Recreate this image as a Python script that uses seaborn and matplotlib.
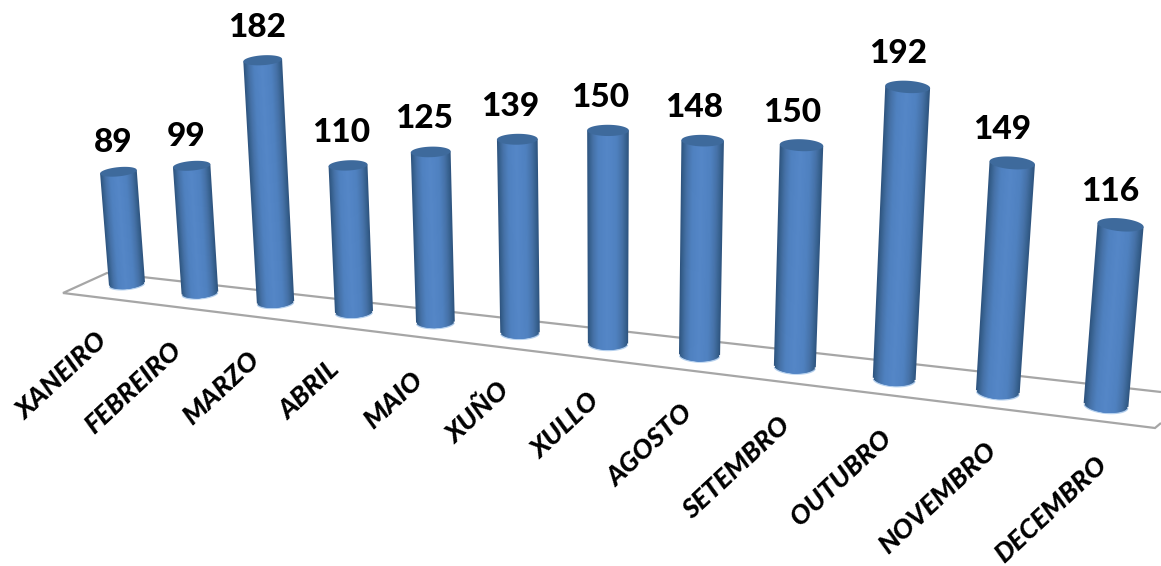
import numpy as np
import matplotlib
matplotlib.use("Agg")
import matplotlib.pyplot as plt
from matplotlib.transforms import Transform, Affine2D
from matplotlib.patches import Polygon
from matplotlib.colors import to_rgb
import seaborn as sns

months = ["XANEIRO", "FEBREIRO", "MARZO", "ABRIL", "MAIO", "XUÑO", "XULLO",
          "AGOSTO", "SETEMBRO", "OUTUBRO", "NOVEMBRO", "DECEMBRO"]
values = [89, 99, 182, 110, 125, 139, 150, 148, 150, 192, 149, 116]

W, H = 1161, 566
HALF = 0.25          # half width of a cylinder in category units


def centre(i, v):
    """Perspective of the 3D plot: category/value -> reference pixel."""
    d = 1 - 0.01774 * i - 0.000197 * v
    return (127 + 69.38 * i - 0.1198 * v) / d, (284 + 3.82 * i - 1.295 * v) / d, d


def tilt(c):
    return 0.0165 * (c - 5.8)


class Perspective(Transform):
    input_dims = output_dims = 2
    is_separable = False
    has_inverse = False

    def transform_non_affine(self, values):
        values = np.asarray(values, float)
        x, v = values[:, 0], values[:, 1]
        c = np.round(x)
        u = x - c
        X, Y, d = centre(c, v)
        off = u * 72 / d
        Yo = Y + off * tilt(c)
        depth = (5.0 + 0.25 * c) * np.sqrt(np.clip(1 - (u / HALF) ** 2, 0, 1))
        Yo = Yo + np.where(v <= 0.01, depth, 0)
        return np.column_stack([X + off, Yo])


sns.set_theme(style="white")
fig, ax = plt.subplots(figsize=(W / 100, H / 100), dpi=100)
fig.subplots_adjust(0, 0, 1, 1)
ax.set_axis_off()

to_fig = Affine2D().scale(1 / W, -1 / H).translate(0, 1) + fig.transFigure
persp = Perspective() + to_fig

# floor of the 3D plot
floor = [(1161, 392), (107, 273), (63, 293), (1155, 428), (1161, 423)]
ax.add_patch(Polygon(floor, closed=False, fill=False, ec="#a6a6a6", lw=1.6,
                     transform=to_fig, clip_on=False, zorder=0))

# light rim under each base
for i in range(12):
    X, Y, d = centre(i, 0)
    t = np.linspace(0, np.pi, 40)
    dx = np.cos(t) * HALF * 72 / d
    dy = np.sin(t) * (5.0 + 0.25 * i) + dx * tilt(i) + 1.2
    ax.add_patch(Polygon(np.column_stack([X + dx, Y + dy]), fc="#b5d0ee", ec="none",
                         transform=to_fig, clip_on=False, zorder=0.5))

# cylinder bodies: nested seaborn bars form the shading
stops_t = [0.0, 0.45, 0.72, 0.9, 1.0]
stops_c = [to_rgb(c) for c in ["#5587c8", "#4f81c0", "#4672a8", "#37618f", "#2f5580"]]
levels = np.linspace(1, 0.04, 20)
for z, t in enumerate(levels):
    col = [np.interp(t, stops_t, [s[j] for s in stops_c]) for j in range(3)]
    n0 = len(ax.patches)
    sns.barplot(x=months, y=values, width=2 * HALF * t, color=col, saturation=1,
                ax=ax, legend=False, linewidth=0)
    for p in ax.patches[n0:]:
        p.set_x(p.get_x() - 0.012 * (1 - t))
        p.set_transform(persp)
        p.set_clip_on(False)
        p.set_zorder(1 + z * 0.01)
ax.set_axis_off()

# caps
for i, v in enumerate(values):
    X, Y, d = centre(i, v)
    t = np.linspace(0, 2 * np.pi, 80)
    dx = np.cos(t) * HALF * 72 / d
    dy = np.sin(t) * (4.6 + 0.17 * i) + dx * tilt(i)
    ax.add_patch(Polygon(np.column_stack([X + dx, Y + dy]), fc="#3e6a9c", ec="none",
                         transform=to_fig, clip_on=False, zorder=2))

# labels
for i, v in enumerate(values):
    ax.annotate(str(v), xy=(i, v), xycoords=persp,
                xytext=(-5 - 0.5 * i, 29 if i < 2 else 33), textcoords="offset pixels",
                ha="center", va="center", fontsize=24, fontweight=900,
                family="Lato", color="black", annotation_clip=False, zorder=3)
    ax.annotate(months[i], xy=(i, 0), xycoords=persp,
                xytext=(-24 + 1.9 * i, -48), textcoords="offset pixels",
                ha="right", va="center", rotation=43, rotation_mode="anchor",
                fontsize=19.5, fontweight=900, fontstyle="italic",
                family="Lato", color="black", annotation_clip=False, zorder=3)

fig.savefig("out.png", dpi=100, facecolor="white")
